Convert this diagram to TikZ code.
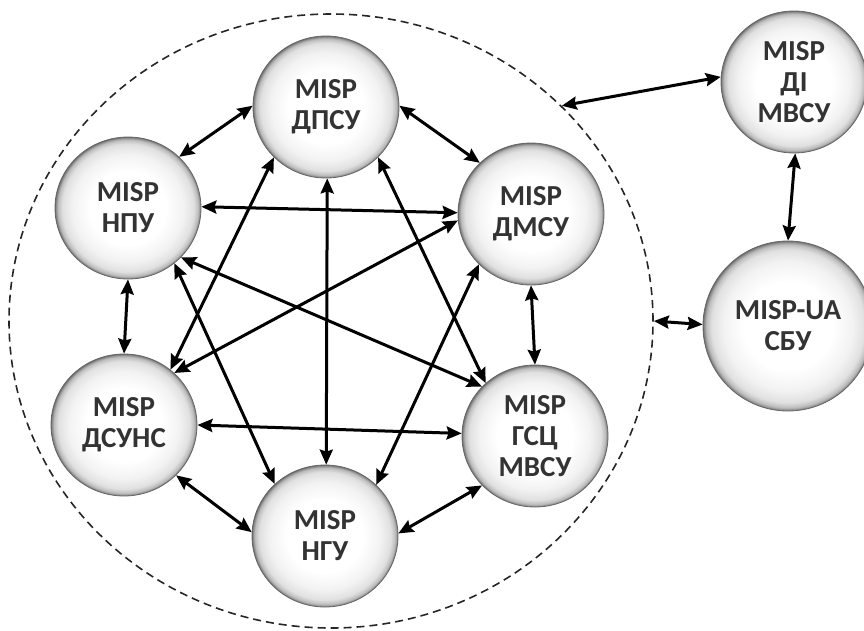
\documentclass[tikz,border=0pt]{standalone}
\usepackage{fontspec}
\setmainfont{Carlito}
\usetikzlibrary{arrows.meta,shapes.geometric}
\pgfdeclareradialshading{ballshade}{\pgfpoint{0bp}{0bp}}{%
  color(0bp)=(white); color(13bp)=(white); color(19bp)=(black!5);
  color(22.5bp)=(black!12); color(24bp)=(black!26); color(24.8bp)=(black!48);
  color(25bp)=(black!58); color(50bp)=(black!58)}
\definecolor{txt}{HTML}{333333}
\tikzset{
  ball/.style={ellipse, shading=ballshade, draw=black!60, line width=0.8pt,
    minimum width=146pt, minimum height=142pt, inner sep=0pt, align=center,
    text=txt, font=\fontsize{29}{31}\selectfont\bfseries},
  bigball/.style={ball, minimum width=170pt, minimum height=170pt},
  link/.style={line width=3pt, {Stealth[length=15pt,width=13pt,inset=2pt]}-{Stealth[length=15pt,width=13pt,inset=2pt]}},
  group/.style={ellipse, draw=black!85, line width=1.6pt, dash pattern=on 8pt off 5pt,
    minimum width=644pt, minimum height=614pt, inner sep=0pt}
}
\begin{document}
\begin{tikzpicture}[x=1pt,y=-1pt]
\useasboundingbox (0,0) rectangle (864,630);
\node[group] (grp) at (331,321) {};
\node[ball] (A) at (326,107) {MISP\\ДПСУ};
\node[ball] (B) at (128,208) {MISP\\НПУ};
\node[ball] (C) at (531,214) {MISP\\ДМСУ};
\node[ball] (D) at (124,425) {MISP\\ДСУНС};
\node[ball] (E) at (535,436) {MISP\\ГСЦ\\МВСУ};
\node[ball] (F) at (325,536) {MISP\\НГУ};
\node[ball] (G) at (794,82) {MISP\\ДІ\\МВСУ};
\node[bigball] (H) at (788,326) {MISP-UA\\СБУ};
\draw[link] (A.179) -- (B.45);
\draw[link] (A.1) -- (C.135);
\draw[link] (A.271) -- (F.89);
\draw[link] (A.224) -- (D.50);
\draw[link] (A.316) -- (E.133);
\draw[link] (B.1) -- (C.179);
\draw[link] (B.270) -- (D.90);
\draw[link] (B.317) -- (E.137);
\draw[link] (B.310) -- (F.134);
\draw[link] (C.185) -- (D.46);
\draw[link] (C.270) -- (E.90);
\draw[link] (C.224) -- (F.45);
\draw[link] (D.0) -- (E.178);
\draw[link] (D.316) -- (F.177);
\draw[link] (E.223) -- (F.2);
\draw[link] (grp.43) -- (G.176);
\draw[link] (G.271) -- (H.90);
\draw[link] (grp.0) -- (H.179);
\end{tikzpicture}
\end{document}
